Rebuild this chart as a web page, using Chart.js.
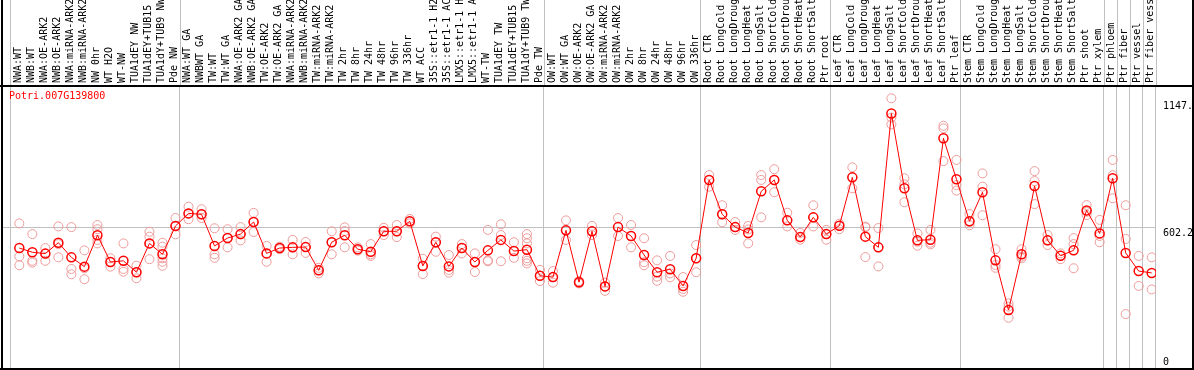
<!DOCTYPE html>
<html>
<head>
<meta charset="utf-8">
<script src="https://cdn.jsdelivr.net/npm/chart.js@4.4.1/dist/chart.umd.min.js"></script>
<style>
  html, body { margin: 0; padding: 0; background: #ffffff; }
  canvas { display: block; }
</style>
</head>
<body>
<canvas id="chart" width="1194" height="370"></canvas>
<script>
const geneName = "Potri.007G139800";

const categories = [
  "NWA:WT", "NWB:WT", "NWA:OE-ARK2", "NWB:OE-ARK2", "NWA:miRNA-ARK2", "NWB:miRNA-ARK2",
  "NW 0hr", "WT H2O", "WT-NW", "TUA1dEY NW", "TUA1dEY+TUB15 NW", "TUA1dY+TUB9 NW", "Pde NW",
  "NWA:WT GA", "NWBWT GA", "TW:WT", "TW:WT GA", "NWA:OE-ARK2 GA", "NWB:OE-ARK2 GA",
  "TW:OE-ARK2", "TW:OE-ARK2 GA", "NWA:miRNA-ARK2 GA", "NWB:miRNA-ARK2 GA", "TW:miRNA-ARK2",
  "TW:miRNA-ARK2 GA", "TW 2hr", "TW 8hr", "TW 24hr", "TW 48hr", "TW 96hr", "TW 336hr", "WT ACC",
  "35S::etr1-1 H2O", "35S::etr1-1 ACC", "LMX5::etr1-1 H2O", "LMX5::etr1-1 ACC", "WT-TW",
  "TUA1dEY TW", "TUA1dEY+TUB15 TW", "TUA1dY+TUB9 TW", "Pde TW",
  "OW:WT", "OW:WT GA", "OW:OE-ARK2", "OW:OE-ARK2 GA", "OW:miRNA-ARK2", "OW:miRNA-ARK2 GA",
  "OW 2hr", "OW 8hr", "OW 24hr", "OW 48hr", "OW 96hr", "OW 336hr",
  "Root CTR", "Root LongCold", "Root LongDrought", "Root LongHeat", "Root LongSalt",
  "Root ShortCold", "Root ShortDrought", "Root ShortHeat", "Root ShortSalt", "Ptr root",
  "Leaf CTR", "Leaf LongCold", "Leaf LongDrought", "Leaf LongHeat", "Leaf LongSalt",
  "Leaf ShortCold", "Leaf ShortDrought", "Leaf ShortHeat", "Leaf ShortSalt", "Ptr leaf",
  "Stem CTR", "Stem LongCold", "Stem LongDrought", "Stem LongHeat", "Stem LongSalt",
  "Stem ShortCold", "Stem ShortDrought", "Stem ShortHeat", "Stem ShortSalt", "Ptr shoot",
  "Ptr xylem", "Ptr phloem", "Ptr fiber", "Ptr vessel", "Ptr fiber vessel"
];

const meanValues = [
  516, 498, 492, 539, 476, 436, 571, 456, 461, 412, 536, 489, 611,
  665, 661, 525, 559, 576, 628, 493, 516, 519, 520, 420, 541, 571, 511, 500, 588, 588, 631,
  439, 541, 437, 516, 456, 506, 551, 503, 509, 397,
  391, 592, 369, 588, 351, 606, 568, 486, 412, 425, 353, 472,
  809, 661, 606, 581, 760, 809, 635, 563, 648, 576,
  612, 820, 565, 519, 1095, 773, 549, 552, 988, 812,
  631, 756, 463, 249, 489, 783, 549, 483, 506, 678,
  579, 816, 495, 417, 409
];

const replicateValues = [
  [622, 480, 442], [576, 461, 453], [516, 492, 461], [609, 533, 476], [606, 426, 403],
  [506, 429, 382], [615, 597, 551, 536], [472, 456, 436], [536, 426, 414], [440, 412, 386],
  [586, 565, 536, 468], [539, 522, 472, 457, 440], [645, 611, 575],
  [694, 665, 640], [683, 661, 645], [601, 489, 474], [597, 559, 519], [606, 575, 549],
  [667, 628, 585], [525, 493, 457], [522, 516, 511], [551, 519, 489], [542, 520, 495],
  [431, 420, 407], [588, 541, 489], [605, 589, 519], [519, 511, 505], [533, 489, 482],
  [603, 588, 572], [615, 588, 563], [641, 631, 622], [470, 439, 404], [565, 541, 500],
  [486, 422, 410], [533, 516, 493], [493, 456, 413], [594, 463, 459], [618, 572, 459],
  [541, 503, 474], [576, 558, 536, 472, 461, 450], [422, 397, 374],
  [417, 391, 367], [635, 592, 551], [374, 369, 364], [611, 588, 572], [367, 351, 332],
  [645, 606, 568], [615, 568, 519], [558, 455, 442], [463, 393, 375], [482, 407, 390],
  [391, 340, 328], [529, 472, 412],
  [830, 809, 780], [700, 661, 627], [628, 606, 594], [611, 596, 536], [830, 809, 648],
  [855, 809, 756], [668, 635, 609], [581, 563, 552], [700, 648, 609], [594, 576, 552],
  [621, 612, 597], [863, 820, 773], [608, 605, 477], [602, 519, 437], [1160, 1077, 1048],
  [816, 790, 713], [579, 543, 526], [594, 539, 532], [1042, 1031, 890], [895, 787, 763],
  [662, 629, 614], [837, 780, 657], [511, 443, 431], [278, 264, 216], [511, 479, 472],
  [847, 804, 705], [572, 549, 529], [493, 483, 468], [559, 533, 429], [701, 672, 658],
  [637, 568, 541], [895, 829, 730], [700, 555, 232], [482, 353], [476, 338]
];

const yTickValues = [0, 602.2, 1147.6];
const yTickLabels = ["0", "602.2", "1147.6"];
const groupStarts = [0, 13, 41, 53, 63, 73, 84, 85, 86, 87, 88];

const MONO = "'DejaVu Sans Mono', monospace";
const X_MIN = -1.33;
const X_MAX = 87.33;
const GRID_SHIFT = 0.69; // group separators sit a bit left of the half-way mark
const Y_MAX = 1213;

const meanPoints = meanValues.map((v, i) => ({ x: i, y: v }));
const repPoints = replicateValues.flatMap((reps, i) => reps.map((v) => ({ x: i, y: v })));

// keep the plot box fixed, whatever room the tick labels ask for
const fixSize = (w, h) => (scale) => {
    if (w !== null) scale.width = w;
    if (h !== null) scale.height = h;
    scale.paddingLeft = 0;
    scale.paddingRight = 0;
    scale.paddingTop = 0;
    scale.paddingBottom = 0;
};

// frame, separators through the label band, and the gene name
const framePlugin = {
    id: "frame",
    afterDraw(chart) {
        const { ctx, chartArea } = chart;
        const xg = chart.scales.xg;
        ctx.save();
        ctx.strokeStyle = "#c0c0c0";
        ctx.lineWidth = 1;
        groupStarts.forEach((k) => {
            const px = Math.round(xg.getPixelForValue(k - GRID_SHIFT)) + 0.5;
            ctx.beginPath();
            ctx.moveTo(px, 0);
            ctx.lineTo(px, chartArea.top);
            ctx.stroke();
        });

        ctx.fillStyle = "#000000";
        ctx.fillRect(1, 0, 2, 370);
        ctx.fillRect(1192, 0, 2, 370);
        ctx.fillRect(0, 85, 1194, 2);
        ctx.fillRect(0, 368, 1194, 2);

        ctx.fillStyle = "#ff0000";
        ctx.font = "10px " + MONO;
        ctx.textBaseline = "top";
        ctx.textAlign = "left";
        ctx.fillText(geneName, chartArea.left + 7, chartArea.top + 5);
        ctx.restore();
    },
};

new Chart(document.getElementById("chart"), {
    type: "line",
    data: {
        datasets: [
            {
                label: "mean",
                data: meanPoints,
                xAxisID: "x",
                yAxisID: "y",
                borderColor: "#ff0000",
                borderWidth: 1,
                fill: false,
                tension: 0,
                pointRadius: 4.5,
                pointBorderWidth: 1.5,
                pointBorderColor: "#ff0000",
                pointBackgroundColor: "rgba(0,0,0,0)",
            },
            {
                label: "replicates",
                data: repPoints,
                xAxisID: "x",
                yAxisID: "y",
                showLine: false,
                pointRadius: 4.5,
                pointBorderWidth: 1,
                pointBorderColor: "#ee9a9a",
                pointBackgroundColor: "rgba(0,0,0,0)",
            },
        ],
    },
    options: {
        responsive: false,
        animation: false,
        devicePixelRatio: 1,
        events: [],
        layout: { autoPadding: false, padding: { left: 2, right: 0, top: 0, bottom: 0 } },
        plugins: { legend: { display: false }, tooltip: { enabled: false } },
        scales: {
            x: {
                type: "linear",
                position: "top",
                min: X_MIN,
                max: X_MAX,
                afterBuildTicks: (scale) => {
                    scale.ticks = categories.map((c, i) => ({ value: i }));
                },
                afterFit: fixSize(null, 86),
                grid: { display: false, drawTicks: false },
                border: { display: false },
                ticks: {
                    autoSkip: false,
                    minRotation: 90,
                    maxRotation: 90,
                    padding: 3,
                    labelOffset: 11,
                    color: "#000000",
                    font: { family: MONO, size: 10 },
                    callback: (value) => categories[value] ?? "",
                },
            },
            xg: {
                type: "linear",
                position: "bottom",
                min: X_MIN,
                max: X_MAX,
                afterBuildTicks: (scale) => {
                    scale.ticks = groupStarts.map((k) => ({ value: k - GRID_SHIFT }));
                },
                afterFit: fixSize(null, 2),
                grid: { color: "#c0c0c0", lineWidth: 1, drawTicks: false },
                border: { display: false },
                ticks: { display: false },
            },
            y: {
                type: "linear",
                position: "right",
                min: 0,
                max: Y_MAX,
                afterBuildTicks: (scale) => {
                    scale.ticks = yTickValues.map((v) => ({ value: v }));
                },
                afterFit: fixSize(38, null),
                grid: {
                    drawTicks: false,
                    color: (ctx) => (ctx.tick && ctx.tick.value === 602.2 ? "#c0c0c0" : "rgba(0,0,0,0)"),
                },
                border: { display: false },
                ticks: {
                    padding: 7,
                    color: "#000000",
                    font: { family: MONO, size: 10, lineHeight: 1.1 },
                    // labels sit just under their value, the zero just above it
                    callback: (value) => {
                        const label = yTickLabels[yTickValues.indexOf(value)];
                        return value === 0 ? [label, ""] : ["", label];
                    },
                },
            },
        },
    },
    plugins: [framePlugin],
});
</script>
</body>
</html>
